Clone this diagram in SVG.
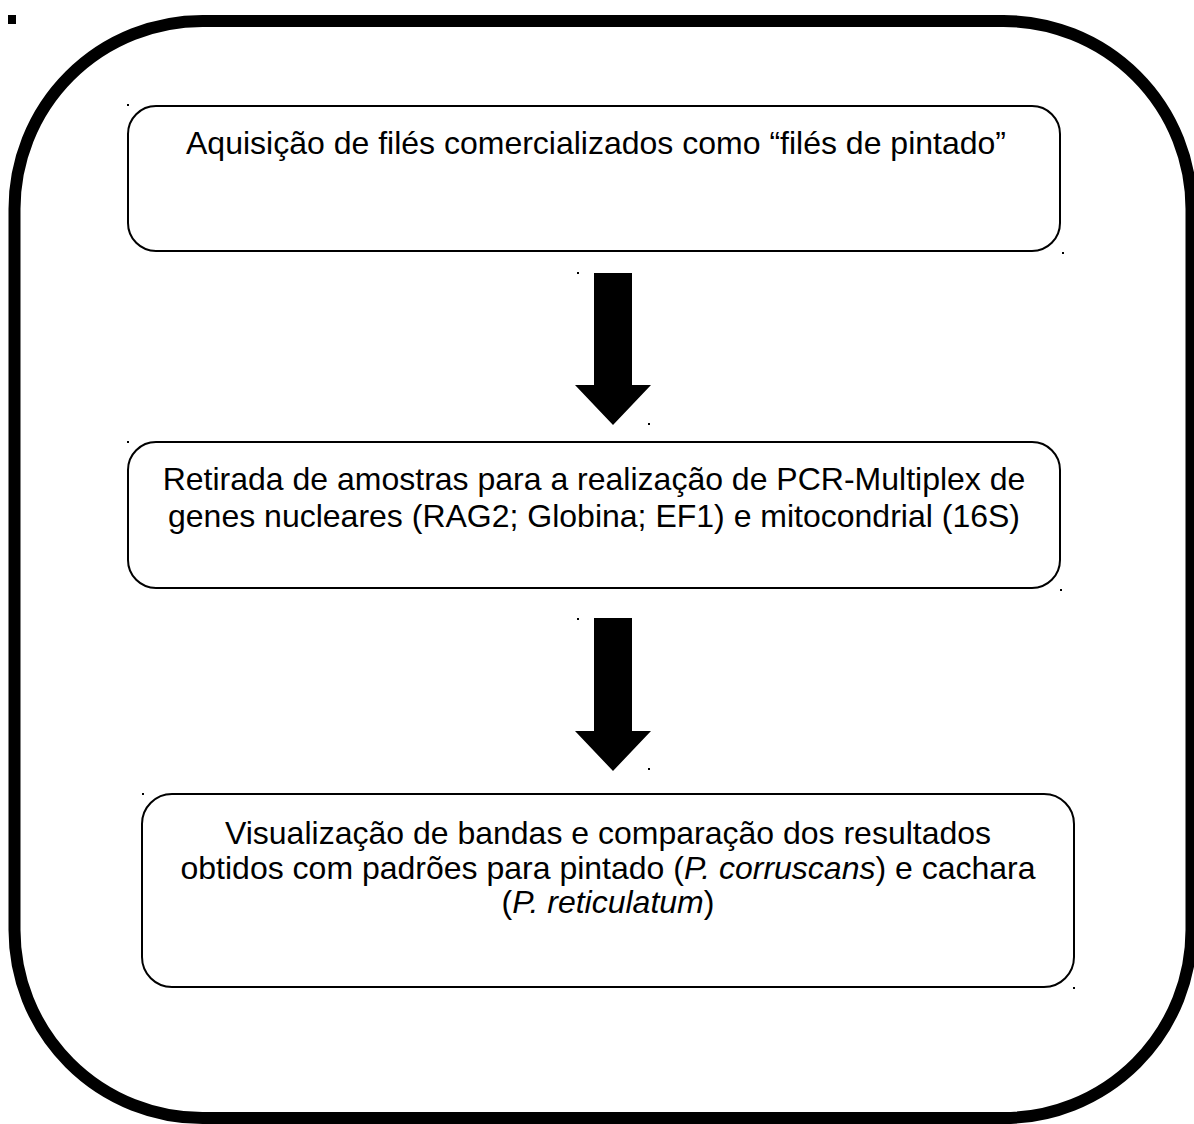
<svg xmlns="http://www.w3.org/2000/svg" width="1194" height="1124" viewBox="0 0 1194 1124">
<style>
.box{fill:#fff;stroke:#000;stroke-width:2}
.t{font-family:"Liberation Sans",Arial,sans-serif;font-size:32px;fill:#000;text-anchor:middle}
.dot{fill:#000}
.arr{fill:#000}
</style>
<rect x="0" y="0" width="1194" height="1124" fill="#fff"/>
<rect class="dot" x="8" y="15" width="8" height="9"/>
<rect id="frame" x="14.5" y="21" width="1177" height="1097" rx="188" ry="188" fill="none" stroke="#000" stroke-width="12"/>
<g id="node1">
<rect class="box" x="128" y="106" width="932" height="145" rx="28"/>
<text class="t" x="596" y="154">Aquisição de filés comercializados como “filés de pintado”</text>
<rect class="dot" x="127" y="104" width="2" height="2"/>
<rect class="dot" x="1062" y="252" width="2" height="2"/>
</g>
<g id="node2">
<rect class="box" x="128" y="442" width="932" height="146" rx="28"/>
<text class="t" x="594" y="490">Retirada de amostras para a realização de PCR-Multiplex de</text>
<text class="t" x="594" y="527">genes nucleares (RAG2; Globina; EF1) e mitocondrial (16S)</text>
<rect class="dot" x="127" y="441" width="2" height="2"/>
<rect class="dot" x="1060" y="589" width="2" height="2"/>
</g>
<g id="node3">
<rect class="box" x="142" y="794" width="932" height="193" rx="30"/>
<text class="t" x="608" y="844">Visualização de bandas e comparação dos resultados</text>
<text class="t" x="608" y="879">obtidos com padrões para pintado (<tspan font-style="italic">P. corruscans</tspan>) e cachara</text>
<text class="t" x="608" y="913">(<tspan font-style="italic">P. reticulatum</tspan>)</text>
<rect class="dot" x="142" y="793" width="2" height="2"/>
<rect class="dot" x="1073" y="987" width="2" height="2"/>
</g>
<g id="connectors">
<polygon class="arr" points="594,273 632,273 632,385 651,385 613,425 575,385 594,385"/>
<rect class="dot" x="577" y="272" width="2" height="2"/>
<rect class="dot" x="648" y="423" width="2" height="2"/>
<polygon class="arr" points="594,618 632,618 632,731 651,731 613,771 575,731 594,731"/>
<rect class="dot" x="577" y="618" width="2" height="2"/>
<rect class="dot" x="648" y="768" width="2" height="2"/>
</g>
</svg>
